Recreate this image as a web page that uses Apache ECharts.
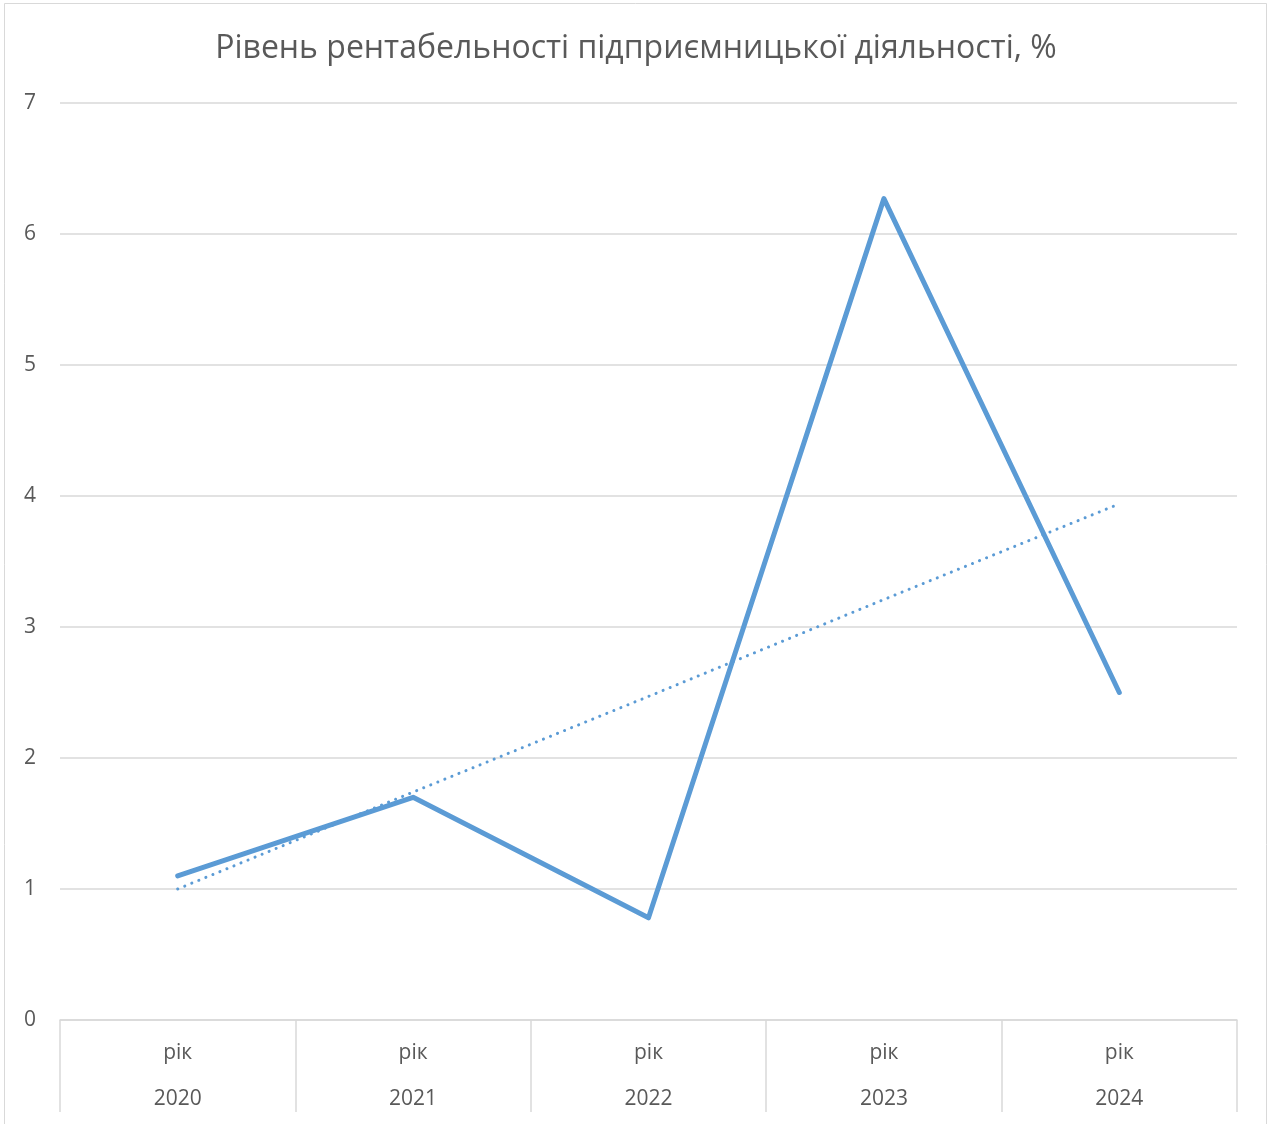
<!DOCTYPE html>
<html>
<head>
<meta charset="utf-8">
<script src="https://cdn.jsdelivr.net/npm/echarts@6/dist/echarts.min.js"></script>
<style>
  html, body { margin: 0; padding: 0; background: #fff; }
  #chart { width: 1272px; height: 1124px; }
</style>
</head>
<body>
<div id="chart"></div>
<script>
// Category labels: a unit word above the year
const years = ['2020', '2021', '2022', '2023', '2024'];
const unitWord = 'рік';

// Profitability level, %
const profitability = [1.1, 1.7, 0.78, 6.27, 2.5];

// Linear trend values at each year
const trendValues = [1.0, 1.74, 2.47, 3.21, 3.94];

// Value axis ticks
const yTicks = [0, 1, 2, 3, 4, 5, 6, 7];

const FONT = '"Open Sans", "Noto Sans", sans-serif';
const TEXT = '#595959';
const GRID = '#d9d9d9';
const BLUE = '#5b9bd5';

const chart = echarts.init(document.getElementById('chart'), null, { renderer: 'canvas' });

chart.setOption({
  animation: false,
  backgroundColor: '#fff',
  title: {
    text: 'Рівень рентабельності підприємницької діяльності, %',
    left: 'center',
    top: 28,
    textStyle: { fontFamily: FONT, fontSize: 32, fontWeight: 'normal', color: TEXT }
  },
  graphic: [{
    type: 'rect',
    shape: { x: 4.5, y: 3.5, width: 1262, height: 1140 },
    style: { fill: 'none', stroke: GRID, lineWidth: 1 },
    silent: true
  }],
  grid: { left: 60, right: 35, top: 103, bottom: 104 },
  xAxis: {
    type: 'category',
    data: years,
    boundaryGap: true,
    axisLine: { lineStyle: { color: GRID, width: 1.5 } },
    axisTick: { show: true, length: 92, lineStyle: { color: GRID, width: 1.5 } },
    axisLabel: {
      margin: 10,
      fontFamily: FONT,
      fontSize: 21,
      color: TEXT,
      lineHeight: 46,
      formatter: (v) => unitWord + '\n' + v
    }
  },
  yAxis: {
    type: 'value',
    min: yTicks[0],
    max: yTicks[yTicks.length - 1],
    interval: 1,
    axisLine: { show: false },
    axisTick: { show: false },
    splitLine: { lineStyle: { color: GRID, width: 1.5 } },
    axisLabel: { margin: 24, fontFamily: FONT, fontSize: 21, color: TEXT }
  },
  series: [
    {
      name: 'Рівень рентабельності',
      type: 'line',
      data: profitability,
      symbol: 'none',
      lineStyle: { color: BLUE, width: 5, cap: 'round', join: 'round' },
      z: 3
    },
    {
      name: 'Тренд',
      type: 'line',
      data: trendValues,
      symbol: 'none',
      lineStyle: { color: BLUE, width: 3, type: [0.1, 7.5], cap: 'round' },
      z: 4
    }
  ]
});
</script>
</body>
</html>
